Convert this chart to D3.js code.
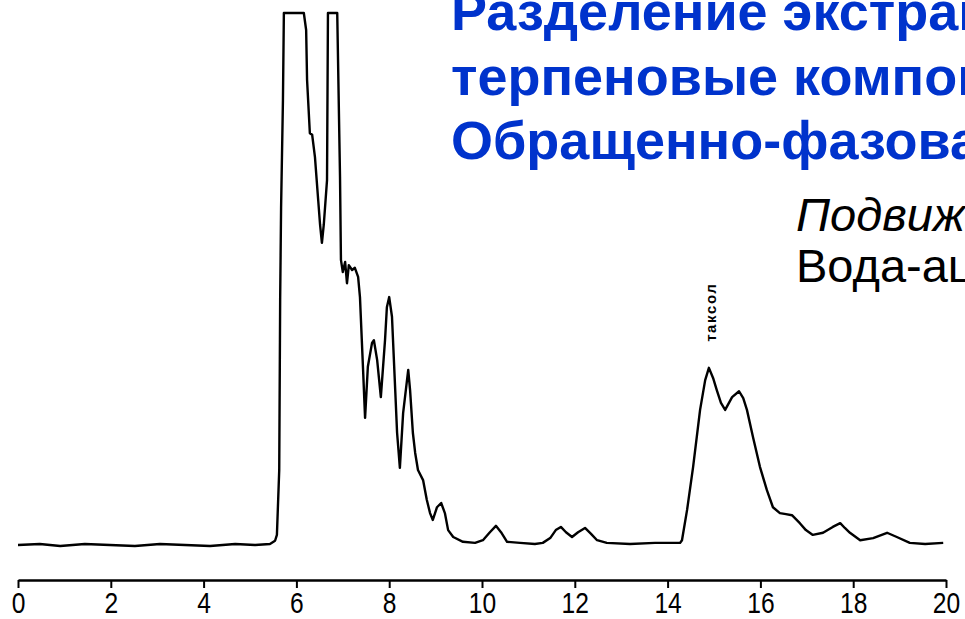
<!DOCTYPE html>
<html>
<head>
<meta charset="utf-8">
<script src="https://cdn.jsdelivr.net/npm/d3@7"></script>
<style>
  html, body { margin: 0; padding: 0; background: #fff; }
  svg { display: block; }
</style>
</head>
<body>
<div id="root"></div>
<script>
const width = 965;
const height = 619;

// retention time, min
const timeMin = [
  0.00, 0.47, 0.91, 1.44, 1.98, 2.52, 3.06, 3.60, 4.14, 4.68,
  5.11, 5.43, 5.54, 5.58, 5.63, 5.65, 5.67, 5.71, 5.73, 6.16,
  6.21, 6.23, 6.29, 6.34, 6.40, 6.47, 6.51, 6.55, 6.59, 6.66,
  6.68, 6.88, 6.94, 6.96, 7.00, 7.05, 7.09, 7.13, 7.20, 7.26,
  7.33, 7.37, 7.44, 7.48, 7.54, 7.63, 7.67, 7.74, 7.82, 7.91,
  7.95, 8.00, 8.06, 8.13, 8.17, 8.23, 8.30, 8.41, 8.45, 8.51,
  8.56, 8.62, 8.73, 8.81, 8.88, 8.94, 9.03, 9.12, 9.20, 9.27,
  9.38, 9.59, 9.85, 10.02, 10.17, 10.30, 10.41, 10.54, 10.82, 11.14,
  11.31, 11.47, 11.59, 11.70, 11.81, 11.94, 12.07, 12.22, 12.35, 12.48,
  12.69, 13.19, 13.73, 14.27, 14.31, 14.42, 14.55, 14.70, 14.81, 14.89,
  14.98, 15.06, 15.15, 15.24, 15.39, 15.54, 15.63, 15.71, 15.84, 15.99,
  16.14, 16.27, 16.42, 16.55, 16.68, 16.85, 16.98, 17.13, 17.35, 17.56,
  17.72, 17.82, 17.93, 18.15, 18.43, 18.73, 18.94, 19.22, 19.55, 19.94
];

// detector signal, % of recorder full scale (100 = off scale)
const signal = [
  0.0, 0.2, -0.2, 0.2, 0.0, -0.2, 0.2, 0.0, -0.2, 0.2,
  0.0, 0.2, 0.8, 1.9, 14.1, 46.1, 63.5, 83.6, 100, 100,
  96.8, 87.4, 77.4, 77.1, 72.9, 64.8, 60.2, 56.8, 60.2, 68.6,
  100, 100, 69.2, 53.6, 51.3, 53.2, 49.2, 52.6, 51.7, 52.1,
  50.4, 46.6, 32.3, 23.9, 33.5, 38.0, 38.5, 34.8, 27.8, 38.5,
  44.7, 46.6, 42.9, 29.1, 21.1, 14.5, 24.8, 32.9, 29.1, 21.1,
  17.3, 14.1, 12.2, 8.5, 6.0, 4.7, 7.1, 7.9, 6.0, 2.8,
  1.5, 0.6, 0.4, 0.9, 2.4, 3.6, 2.4, 0.6, 0.4, 0.2,
  0.4, 1.3, 2.8, 3.4, 2.4, 1.5, 2.4, 3.2, 2.1, 0.9,
  0.4, 0.2, 0.4, 0.4, 0.9, 6.6, 14.7, 25.4, 31.0, 33.3,
  31.4, 29.1, 26.7, 25.4, 27.8, 28.9, 27.6, 25.4, 20.3, 14.7,
  10.3, 7.1, 6.0, 5.8, 5.6, 4.1, 2.8, 1.9, 2.3, 3.4,
  4.1, 3.2, 2.3, 0.9, 1.3, 2.3, 1.5, 0.4, 0.2, 0.4
];

const xTicks = [0, 2, 4, 6, 8, 10, 12, 14, 16, 18, 20];

const titleLines = [
  "Разделение экстракта тиса на",
  "терпеновые компоненты.",
  "Обращенно-фазовая ВЭЖХ"
];
const phaseLines = ["Подвижная фаза:", "Вода-ацетонитрил"];
const peakLabel = { name: "таксол", time: 14.89, value: 33.3 };

const svg = d3.select("#root").append("svg")
  .attr("width", width)
  .attr("height", height);

svg.append("rect")
  .attr("width", width)
  .attr("height", height)
  .attr("fill", "#fff");

const x = d3.scaleLinear().domain([0, 20]).range([18, 946]);
const y = d3.scaleLinear().domain([0, 100]).range([545, 13]);

const points = timeMin.map((t, i) => [t, signal[i]]);

const line = d3.line()
  .x(d => x(d[0]))
  .y(d => y(d[1]));

svg.append("path")
  .datum(points)
  .attr("fill", "none")
  .attr("stroke", "#000")
  .attr("stroke-width", 2.4)
  .attr("stroke-linejoin", "round")
  .attr("d", line);

// time axis
const axis = svg.append("g")
  .attr("transform", "translate(0,580)")
  .call(d3.axisBottom(x)
    .tickValues(xTicks)
    .tickFormat(d3.format("d"))
    .tickSize(8)
    .tickSizeOuter(0)
    .tickPadding(4));

axis.select(".domain").attr("stroke", "#000").attr("stroke-width", 2.4);
axis.selectAll(".tick line").attr("stroke", "#000").attr("stroke-width", 2);
axis.selectAll(".tick text")
  .attr("fill", "#000")
  .attr("font-family", "'Liberation Sans', Arial, sans-serif")
  .attr("font-size", "30px")
  .attr("transform", "scale(0.82,1)");

// peak label
svg.append("text")
  .attr("transform", `translate(${x(peakLabel.time) + 7},${y(peakLabel.value) - 26}) rotate(-90)`)
  .attr("font-family", "'Liberation Sans', Arial, sans-serif")
  .attr("font-weight", "bold")
  .attr("font-size", "15px")
  .attr("letter-spacing", "1.6px")
  .text(peakLabel.name);

// title (runs off the right edge as in the slide)
svg.append("g")
  .selectAll("text")
  .data(titleLines)
  .enter()
  .append("text")
  .attr("x", 451)
  .attr("y", (d, i) => 30 + i * 64.5)
  .attr("font-family", "'Liberation Sans', Arial, sans-serif")
  .attr("font-weight", "bold")
  .attr("font-size", "54px")
  .attr("fill", "#0033cc")
  .text(d => d);

svg.append("g")
  .selectAll("text")
  .data(phaseLines)
  .enter()
  .append("text")
  .attr("x", 796)
  .attr("y", (d, i) => 231 + i * 51)
  .attr("font-family", "'Liberation Sans', Arial, sans-serif")
  .attr("font-style", (d, i) => i === 0 ? "italic" : "normal")
  .attr("font-size", "47px")
  .attr("fill", "#000")
  .text(d => d);
</script>
</body>
</html>
